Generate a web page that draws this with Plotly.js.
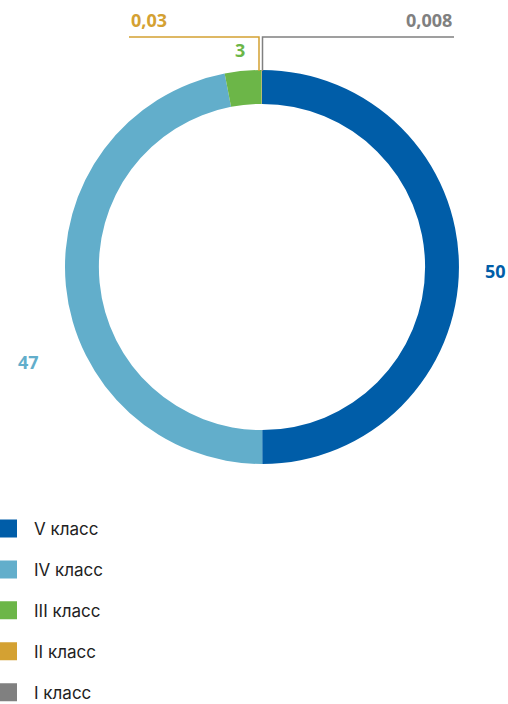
<!DOCTYPE html>
<html>
<head>
<meta charset="utf-8">
<script src="https://cdn.plot.ly/plotly-3.0.1.min.js"></script>
<style>html,body{margin:0;padding:0;background:#fff}#chart{width:508px;height:704px}</style>
</head>
<body>
<div id="chart"></div>
<script>
const categories = ["V класс", "IV класс", "III класс", "II класс", "I класс"];
const values = [50, 47, 3, 0.03, 0.008];
const valueLabels = ["50", "47", "3", "0,03", "0,008"];
const colors = ["#005DA8", "#62AECB", "#6CB648", "#D4A132", "#808080"];

const W = 508, H = 704;
const px = x => x / W;
const py = y => 1 - y / H;

const cx = 262, cy = 267, R = 197;

const pie = {
  type: "pie",
  labels: categories,
  values: values,
  marker: {colors: colors, line: {width: 0}},
  hole: 0.828,
  sort: false,
  direction: "clockwise",
  rotation: 0,
  textinfo: "none",
  hoverinfo: "label+value",
  showlegend: false,
  domain: {x: [px(cx - R), px(cx + R)], y: [py(cy + R), py(cy - R)]}
};

const legendTraces = categories.map((c, i) => ({
  type: "scatter",
  mode: "markers",
  x: [null], y: [null],
  name: c,
  legendgroup: "g" + i,
  marker: {symbol: "square", size: 16, color: colors[i], line: {width: 2, color: colors[i]}},
  showlegend: true,
  hoverinfo: "skip"
}));

const labelPos = [
  {x: 495, y: 271, xa: "center"},
  {x: 28, y: 362, xa: "center"},
  {x: 240, y: 50, xa: "center"},
  {x: 129, y: 20, xa: "left"},
  {x: 454, y: 20, xa: "right"}
];

const annotations = valueLabels.map((t, i) => ({
  text: t,
  xref: "paper", yref: "paper",
  x: px(labelPos[i].x), y: py(labelPos[i].y),
  xanchor: labelPos[i].xa, yanchor: "middle",
  showarrow: false,
  font: {family: "Open Sans, sans-serif", size: 18, weight: 700, color: colors[i]}
}));

const shapes = [
  {type: "path", xref: "paper", yref: "paper",
   path: `M ${px(129)} ${py(37)} L ${px(259)} ${py(37)} L ${px(259)} ${py(71)}`,
   line: {color: colors[3], width: 1.5}},
  {type: "path", xref: "paper", yref: "paper",
   path: `M ${px(454)} ${py(37)} L ${px(262.5)} ${py(37)} L ${px(262.5)} ${py(71)}`,
   line: {color: colors[4], width: 1.5}}
];

const layout = {
  width: W, height: H,
  margin: {l: 0, r: 0, t: 0, b: 0, autoexpand: false},
  paper_bgcolor: "#fff", plot_bgcolor: "#fff",
  xaxis: {visible: false}, yaxis: {visible: false},
  showlegend: true,
  legend: {
    x: px(-18), y: py(511), xanchor: "left", yanchor: "top",
    traceorder: "grouped", tracegroupgap: 15.8,
    itemwidth: 42,
    font: {family: "Inter, sans-serif", size: 17, color: "#222"},
    itemclick: false, itemdoubleclick: false
  },
  annotations: annotations,
  shapes: shapes
};

Plotly.newPlot("chart", [pie].concat(legendTraces), layout, {displayModeBar: false, staticPlot: true});
</script>
</body>
</html>
